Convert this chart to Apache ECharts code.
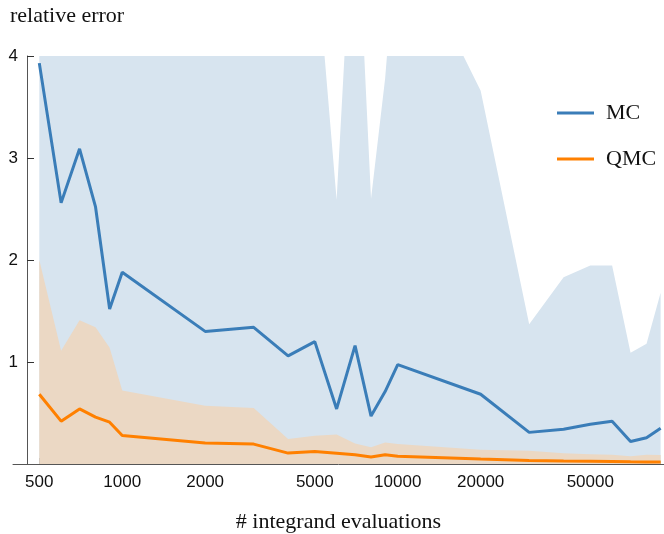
<!DOCTYPE html>
<html>
<head>
<meta charset="utf-8">
<script src="https://cdn.jsdelivr.net/npm/echarts@6/dist/echarts.min.js"></script>
<style>
  html, body { margin: 0; padding: 0; background: #fff; }
  #chart { width: 664px; height: 534px; }
</style>
</head>
<body>
<div id="chart"></div>
<script>
// number of integrand evaluations
var evals = [500, 600, 700, 800, 900, 1000, 2000, 3000, 4000, 5000, 6000, 7000, 8000, 9000,
    10000, 20000, 30000, 40000, 50000, 60000, 70000, 80000, 90000];

// relative error, MC
var mcErr = [3.93, 2.56, 3.09, 2.52, 1.52, 1.88, 1.30, 1.34, 1.06, 1.20, 0.54, 1.16, 0.47, 0.71,
    0.975, 0.684, 0.31, 0.34, 0.39, 0.42, 0.22, 0.257, 0.35];
// upper edge of MC spread (values above 4 are off the plot)
var mcHi = [7.5, 6.2, 6.8, 6.0, 5.6, 6.4, 5.5, 5.8, 5.0, 5.14, 2.59, 5.9, 2.60, 3.78,
    5.3, 3.66, 1.37, 1.83, 1.945, 1.945, 1.09, 1.18, 1.68];

// relative error, QMC
var qmcErr = [0.684, 0.42, 0.54, 0.46, 0.41, 0.28, 0.205, 0.195, 0.107, 0.122, 0.105, 0.09, 0.068, 0.09,
    0.075, 0.049, 0.035, 0.03, 0.028, 0.025, 0.022, 0.02, 0.02];
// upper edge of QMC spread
var qmcHi = [2.00, 1.11, 1.41, 1.34, 1.14, 0.72, 0.57, 0.55, 0.245, 0.277, 0.29, 0.20, 0.163, 0.21,
    0.195, 0.14, 0.13, 0.105, 0.095, 0.09, 0.075, 0.09, 0.088];

var xMajor = [500, 1000, 2000, 5000, 10000, 20000, 50000];
var xMinor = [600, 700, 800, 900, 3000, 4000, 6000, 7000, 8000, 9000,
    30000, 40000, 60000, 70000, 80000, 90000];
var yTicks = [1, 2, 3, 4];

var serif = 'Liberation Serif';
var sans = 'Liberation Sans';

// log10 x positions
var lg = function (v) { return Math.log10(v); };
var pairs = function (arr) {
    return evals.map(function (x, i) { return [lg(x), arr[i]]; });
};

var xMin = 2.6035, xMax = 4.9665;

var band = function (name, data, color) {
    return {
        name: name,
        type: 'line',
        data: pairs(data),
        symbol: 'none',
        silent: true,
        clip: true,
        lineStyle: {width: 0, opacity: 0},
        areaStyle: {color: color, opacity: 1}
    };
};

var option = {
    animation: false,
    title: {
        text: 'relative error',
        left: 10,
        top: 5,
        padding: 0,
        textStyle: {fontFamily: serif, fontSize: 22, fontWeight: 'normal', color: '#111'}
    },
    legend: {
        data: ['MC', 'QMC'],
        orient: 'vertical',
        left: 557,
        top: 102,
        padding: 0,
        itemWidth: 37,
        itemHeight: 3,
        itemGap: 24,
        icon: 'rect',
        textStyle: {fontFamily: serif, fontSize: 22, color: '#111', lineHeight: 22, padding: [0, 0, 0, 7]}
    },
    grid: {left: 13, right: 0, top: 56, bottom: 70, outerBoundsMode: 'none'},
    xAxis: [
        {
            type: 'value',
            min: xMin,
            max: xMax,
            name: '# integrand evaluations',
            nameLocation: 'middle',
            nameGap: 47,
            nameTextStyle: {fontFamily: serif, fontSize: 22, color: '#111'},
            axisLine: {lineStyle: {color: '#555', width: 1}},
            axisTick: {inside: true, length: 6, customValues: xMajor.map(lg), lineStyle: {color: '#333'}},
            axisLabel: {
                customValues: xMajor.map(lg),
                margin: 10,
                fontFamily: sans,
                fontSize: 17,
                color: '#111',
                formatter: function (v) { return String(Math.round(Math.pow(10, v))); }
            },
            splitLine: {show: false}
        },
        {
            type: 'value',
            min: xMin,
            max: xMax,
            position: 'bottom',
            axisLine: {show: false},
            axisTick: {inside: true, length: 3, customValues: xMinor.map(lg), lineStyle: {color: '#333'}},
            axisLabel: {show: false},
            splitLine: {show: false}
        }
    ],
    yAxis: {
        type: 'value',
        min: 0,
        max: 4,
        offset: -14,
        axisLine: {show: true, lineStyle: {color: '#555', width: 1}},
        axisTick: {show: true, inside: true, length: 7, customValues: yTicks, lineStyle: {color: '#333'}},
        axisLabel: {customValues: yTicks, margin: 9, fontFamily: sans, fontSize: 17, color: '#111'},
        splitLine: {show: false}
    },
    series: [
        band('MC spread', mcHi, '#d7e4ef'),
        band('QMC spread', qmcHi, '#ebd8c4'),
        {
            name: 'MC',
            type: 'line',
            data: pairs(mcErr),
            symbol: 'none',
            color: '#3a7db8',
            lineStyle: {width: 3, color: '#3a7db8'},
            z: 5
        },
        {
            name: 'QMC',
            type: 'line',
            data: pairs(qmcErr),
            symbol: 'none',
            color: '#ff8000',
            lineStyle: {width: 3, color: '#ff8000'},
            z: 5
        }
    ]
};

var myChart = echarts.init(document.getElementById('chart'));
myChart.setOption(option);
</script>
</body>
</html>
